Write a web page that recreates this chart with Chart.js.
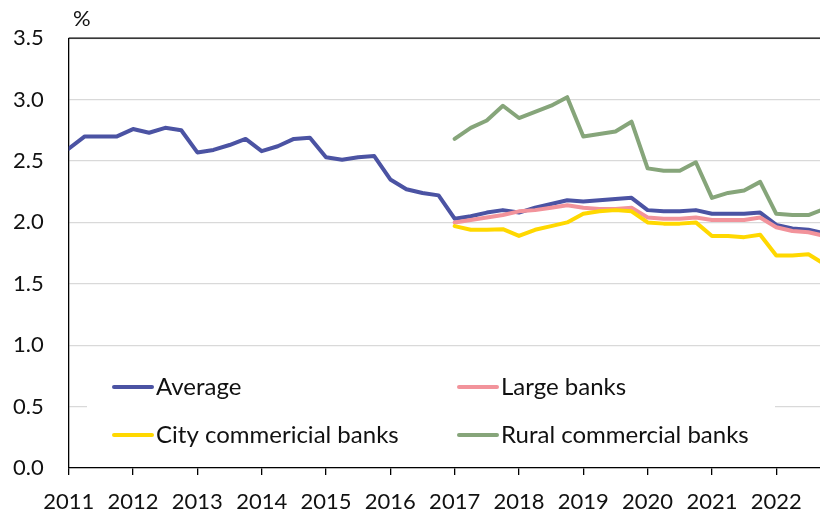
<!DOCTYPE html>
<html>
<head>
<meta charset="utf-8">
<script src="https://cdn.jsdelivr.net/npm/chart.js@4"></script>
<style>
html, body { margin: 0; padding: 0; background: #fff; }
#wrap { width: 820px; height: 513px; }
</style>
</head>
<body>
<div id="wrap"><canvas id="chart" width="820" height="513"></canvas></div>
<script>
// quarterly figures, 2011Q1 - 2022Q4 (per cent)
const years = [2011, 2012, 2013, 2014, 2015, 2016, 2017, 2018, 2019, 2020, 2021, 2022];
const yTicks = [0, 0.5, 1, 1.5, 2, 2.5, 3, 3.5];

const average = [
	2.60, 2.70, 2.70, 2.70, 2.76, 2.73, 2.77, 2.75, 2.57, 2.59, 2.63, 2.68,
	2.58, 2.62, 2.68, 2.69, 2.53, 2.51, 2.53, 2.54, 2.35, 2.27, 2.24, 2.22,
	2.03, 2.05, 2.08, 2.10, 2.08, 2.12, 2.15, 2.18, 2.17, 2.18, 2.19, 2.20,
	2.10, 2.09, 2.09, 2.10, 2.07, 2.07, 2.07, 2.08, 1.98, 1.95, 1.94, 1.91
];
// bank groups are only reported from 2017
const groupStart = 2017;
const largeBanks = [
	2.00, 2.02, 2.04, 2.06, 2.09, 2.10, 2.12, 2.14, 2.12, 2.11, 2.11, 2.12,
	2.04, 2.03, 2.03, 2.04, 2.02, 2.02, 2.02, 2.04, 1.96, 1.93, 1.92, 1.89
];
const cityBanks = [
	1.97, 1.94, 1.94, 1.945, 1.89, 1.94, 1.97, 2.00, 2.07, 2.09, 2.10, 2.09,
	2.00, 1.99, 1.99, 2.00, 1.89, 1.89, 1.88, 1.90, 1.73, 1.73, 1.74, 1.66
];
const ruralBanks = [
	2.68, 2.77, 2.83, 2.95, 2.85, 2.90, 2.95, 3.02, 2.70, 2.72, 2.74, 2.82,
	2.44, 2.42, 2.42, 2.49, 2.20, 2.24, 2.26, 2.33, 2.07, 2.06, 2.06, 2.11
];

const FONT = {family: 'Lato', size: 22};
const KEY_FONT = '24px Lato';
const TEXT = '#111';

function toPoints(values, startYear) {
	return values.map((v, i) => ({x: startYear + i / 4, y: v}));
}

function series(label, values, start, color, order) {
	return {
		label: label,
		data: toPoints(values, start),
		borderColor: color,
		backgroundColor: color,
		borderWidth: 4,
		borderJoinStyle: 'round',
		borderCapStyle: 'round',
		pointRadius: 0,
		tension: 0,
		order: order
	};
}

// white box with the 2x2 key, the "%" unit and the top frame line
var chartDecor = {
	id: 'chartDecor',
	afterDatasetsDraw: function (chart) {
		var ctx = chart.ctx;
		var area = chart.chartArea;
		ctx.save();

		ctx.strokeStyle = '#000';
		ctx.lineWidth = 1.3;
		ctx.beginPath();
		ctx.moveTo(area.left, area.top);
		ctx.lineTo(area.right, area.top);
		ctx.stroke();

		ctx.font = FONT.size + 'px ' + FONT.family;
		ctx.fillStyle = TEXT;
		ctx.textBaseline = 'middle';
		ctx.textAlign = 'left';
		ctx.fillText('%', 73, 19);

		ctx.fillStyle = '#fff';
		ctx.fillRect(87, 362, 688, 92);

		ctx.font = KEY_FONT;
		var colX = [113, 458];
		var rowY = [387, 435];
		chart.data.datasets.forEach(function (ds, i) {
			var x = colX[i % 2];
			var y = rowY[Math.floor(i / 2)];
			ctx.strokeStyle = ds.borderColor;
			ctx.lineWidth = 4;
			ctx.lineCap = 'round';
			ctx.beginPath();
			ctx.moveTo(x + 1, y);
			ctx.lineTo(x + 39, y);
			ctx.stroke();
			ctx.fillStyle = TEXT;
			ctx.fillText(ds.label, x + 43, y);
		});
		ctx.restore();
	}
};

new Chart(document.getElementById('chart').getContext('2d'), {
	type: 'line',
	data: {
		datasets: [
			series('Average', average, years[0], '#4b53a3', 4),
			series('Large banks', largeBanks, groupStart, '#f2939b', 3),
			series('City commericial banks', cityBanks, groupStart, '#ffd800', 2),
			series('Rural commercial banks', ruralBanks, groupStart, '#86a57a', 1)
		]
	},
	options: {
		responsive: false,
		animation: false,
		devicePixelRatio: 1,
		layout: {padding: {top: 34, left: 0, right: 0, bottom: 0}},
		plugins: {
			legend: {display: false},
			tooltip: {enabled: false}
		},
		scales: {
			x: {
				type: 'linear',
				min: years[0],
				max: 2022.68,
				afterBuildTicks: function (scale) {
					scale.ticks = years.map(y => ({value: y}));
				},
				afterFit: function (scale) {
					scale.height = 45;
				},
				ticks: {
					autoSkip: false,
					maxRotation: 0,
					padding: 14,
					color: TEXT,
					font: FONT,
					callback: v => String(v)
				},
				grid: {
					drawOnChartArea: false,
					drawTicks: true,
					tickLength: 7,
					color: '#000',
					lineWidth: 1.3
				},
				border: {display: true, color: '#000', width: 1.3}
			},
			y: {
				min: 0,
				max: 3.5,
				afterBuildTicks: function (scale) {
					scale.ticks = yTicks.map(v => ({value: v}));
				},
				afterFit: function (scale) {
					scale.width = 68.7;
				},
				ticks: {
					padding: 25,
					color: TEXT,
					font: FONT,
					callback: v => v.toFixed(1)
				},
				grid: {
					drawTicks: false,
					color: '#d9d9d9',
					lineWidth: 1.3
				},
				border: {display: true, color: '#000', width: 1.3}
			}
		}
	},
	plugins: [chartDecor]
});
</script>
</body>
</html>
